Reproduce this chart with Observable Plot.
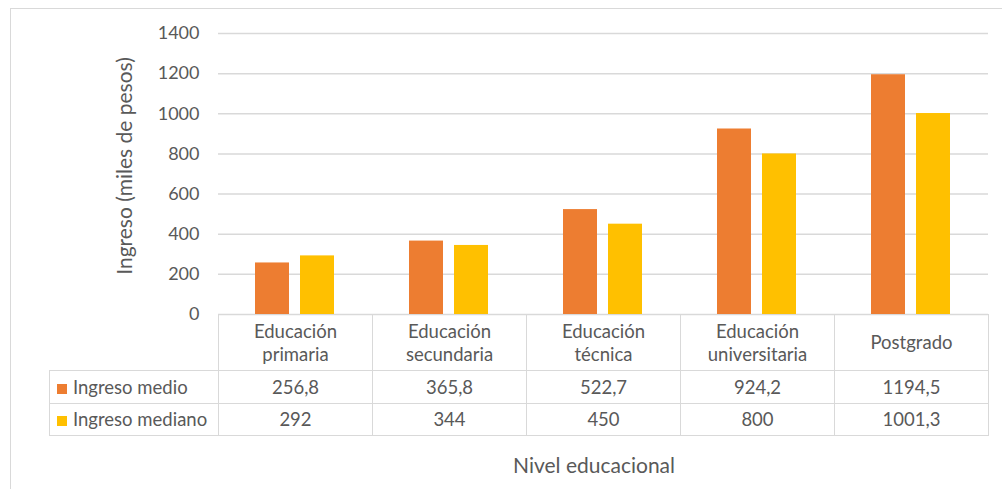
<!DOCTYPE html>
<html>
<head>
<meta charset="utf-8">
<script src="https://cdn.jsdelivr.net/npm/d3@7"></script>
<script src="https://cdn.jsdelivr.net/npm/@observablehq/plot@0.6"></script>
<style>
  html, body { margin: 0; padding: 0; background: #fff; }
  #wrap { position: relative; width: 1002px; height: 489px; overflow: hidden; font-family: Lato, "Open Sans", sans-serif; color: #595959; }
  #frame { position: absolute; left: 10px; top: 8px; width: 1010px; height: 520px; border: 1.5px solid #d9d9d9; box-sizing: border-box; }
  #chart { position: absolute; left: 0; top: 0; }
  #tbl { position: absolute; left: 49px; top: 314px; border-collapse: collapse; table-layout: fixed; font-size: 18.5px; color: #595959; }
  #tbl td { border: 1.5px solid #d9d9d9; text-align: center; padding: 0; line-height: 23px; }
  #tbl td.blank { border: none; }
  #tbl td.leg { text-align: left; padding-left: 7px; white-space: nowrap; }
  .sw { display: inline-block; width: 10px; height: 10px; margin-right: 6px; vertical-align: 0px; }
  #xtitle { position: absolute; left: 594px; top: 453px; transform: translateX(-50%); font-size: 21px; white-space: nowrap; line-height: 24px; }
  #ytitle { position: absolute; left: 124px; top: 166px; transform: translate(-50%, -50%) rotate(-90deg); font-size: 21px; white-space: nowrap; line-height: 24px; }
</style>
</head>
<body>
<div id="wrap">
  <div id="frame"></div>
  <div id="chart"></div>
  <table id="tbl"></table>
  <div id="xtitle"></div>
  <div id="ytitle"></div>
</div>
<script>
const categories = ["Educación primaria", "Educación secundaria", "Educación técnica", "Educación universitaria", "Postgrado"];
const headerLabels = [["Educación", "primaria"], ["Educación", "secundaria"], ["Educación", "técnica"], ["Educación", "universitaria"], ["Postgrado"]];
const series = ["Ingreso medio", "Ingreso mediano"];
const ingresoMedio = [256.8, 365.8, 522.7, 924.2, 1194.5];
const ingresoMediano = [292, 344, 450, 800, 1001.3];
const yTicks = [0, 200, 400, 600, 800, 1000, 1200, 1400];
const colors = ["#ED7D31", "#FFC000"];
const yTitle = "Ingreso (miles de pesos)";
const xTitle = "Nivel educacional";

const values = [ingresoMedio, ingresoMediano];
const data = [];
series.forEach((s, si) => categories.forEach((c, ci) => data.push({cat: c, serie: s, value: values[si][ci]})));

const font = "Lato, 'Open Sans', sans-serif";
const chart = Plot.plot({
  width: 1002,
  height: 489,
  marginTop: 33,
  marginBottom: 175,
  marginLeft: 218,
  marginRight: 14,
  style: {fontFamily: font, fontSize: "18px", color: "#595959", background: "transparent"},
  fx: {domain: categories, padding: 0, axis: null},
  x: {domain: series, paddingInner: 0.244, paddingOuter: 0.833, axis: null},
  y: {domain: [0, 1400]},
  color: {domain: series, range: colors},
  marks: [
    Plot.gridY(yTicks, {stroke: "#d9d9d9", strokeOpacity: 1, strokeWidth: 1.5}),
    Plot.axisY(yTicks, {tickSize: 0, tickPadding: 19, tickFormat: d => String(d), label: null, fontSize: 18}),
    Plot.barY(data, {fx: "cat", x: "serie", y: "value", fill: "serie"})
  ]
});
document.getElementById("chart").appendChild(chart);

// data table
const fmt = v => String(v).replace(".", ",");
const tbl = document.getElementById("tbl");
const colgroup = document.createElement("colgroup");
[169, 154, 154, 154, 154, 154].forEach(w => { const c = document.createElement("col"); c.style.width = w + "px"; colgroup.appendChild(c); });
tbl.appendChild(colgroup);
const hr = tbl.insertRow();
hr.style.height = "56px";
const blank = hr.insertCell(); blank.className = "blank";
headerLabels.forEach(lines => { const td = hr.insertCell(); td.innerHTML = lines.join("<br>"); });
series.forEach((s, si) => {
  const tr = tbl.insertRow();
  tr.style.height = si === 0 ? "33px" : "32px";
  const lc = tr.insertCell(); lc.className = "leg";
  const sw = document.createElement("span"); sw.className = "sw"; sw.style.background = colors[si];
  lc.appendChild(sw); lc.appendChild(document.createTextNode(s));
  values[si].forEach(v => { const td = tr.insertCell(); td.textContent = fmt(v); });
});
document.getElementById("xtitle").textContent = xTitle;
document.getElementById("ytitle").textContent = yTitle;
</script>
</body>
</html>
